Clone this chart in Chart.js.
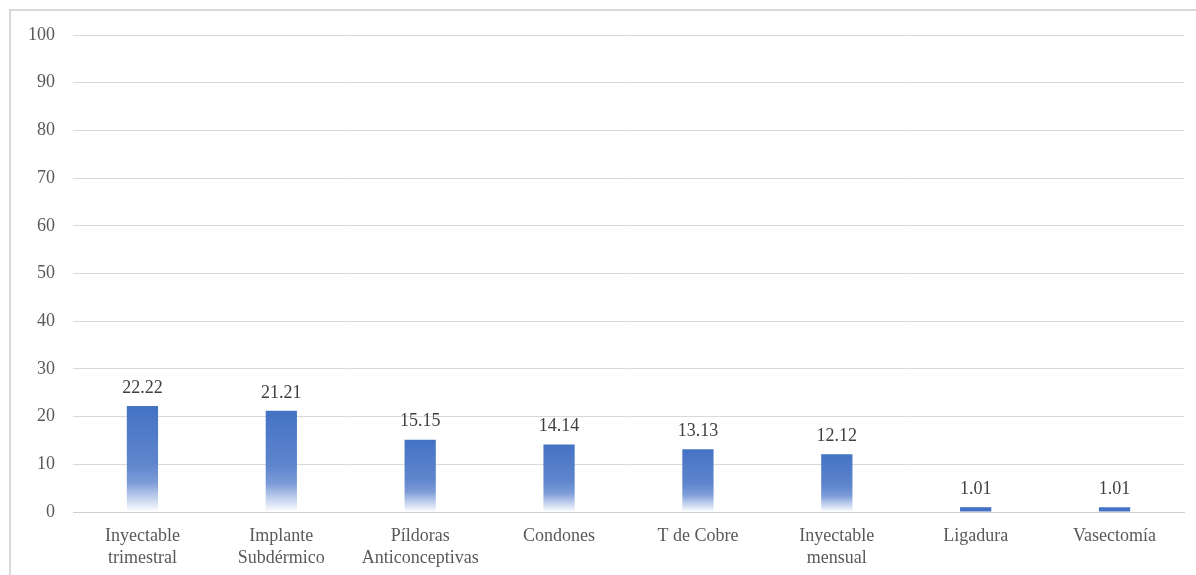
<!DOCTYPE html>
<html>
<head>
<meta charset="utf-8">
<script src="https://cdn.jsdelivr.net/npm/chart.js@4.4.1/dist/chart.umd.min.js"></script>
<style>
  html, body { margin: 0; padding: 0; background: #fff; overflow: hidden; }
  #frame {
    position: absolute; left: 9px; top: 9px; width: 1210px; height: 620px;
    border: 2px solid #d9d9d9; box-sizing: border-box;
  }
  #wrap { position: absolute; left: 0; top: 0; width: 1196px; height: 575px; }
</style>
</head>
<body>
<div id="frame"></div>
<div id="wrap"><canvas id="methodsChart"></canvas></div>
<script>
// Contraceptive methods (percent)
const methods = [
    ["Inyectable", "trimestral"],
    ["Implante", "Subdérmico"],
    ["Píldoras", "Anticonceptivas"],
    ["Condones"],
    ["T de Cobre"],
    ["Inyectable", "mensual"],
    ["Ligadura"],
    ["Vasectomía"],
];
const percentages = [22.22, 21.21, 15.15, 14.14, 13.13, 12.12, 1.01, 1.01];
const yTicks = [0, 10, 20, 30, 40, 50, 60, 70, 80, 90, 100];

const textColor = "#595959";
const fontFamily = "'Liberation Serif', 'Times New Roman', serif";

// Per-bar vertical gradient: solid blue on top, fading to white at the base
function barFill(context) {
    const chart = context.chart;
    const y = chart.scales && chart.scales.y;
    if (!y || !chart.chartArea || context.raw === undefined) return "#4472c4";
    const top = y.getPixelForValue(context.raw);
    const base = y.getPixelForValue(0);
    if (!isFinite(top) || !isFinite(base) || base - top < 12) return "#4472c4";
    const g = chart.ctx.createLinearGradient(0, top, 0, base);
    g.addColorStop(0, "#4472c4");
    g.addColorStop(0.55, "#5f86cd");
    g.addColorStop(0.72, "#7d9bd8");
    g.addColorStop(0.8, "#a3b9e4");
    g.addColorStop(1, "#ffffff");
    return g;
}

// Value labels above each bar
const valueLabels = {
    id: "valueLabels",
    afterDatasetsDraw(chart) {
        const ctx = chart.ctx;
        const meta = chart.getDatasetMeta(0);
        ctx.save();
        ctx.font = "18px " + fontFamily;
        ctx.fillStyle = "#404040";
        ctx.textAlign = "center";
        ctx.textBaseline = "bottom";
        meta.data.forEach((bar, i) => {
            ctx.fillText(percentages[i].toFixed(2), bar.x, bar.y - 9);
        });
        ctx.restore();
    },
};

new Chart(document.getElementById("methodsChart"), {
    type: "bar",
    data: {
        labels: methods,
        datasets: [
            {
                data: percentages,
                backgroundColor: barFill,
                borderWidth: 0,
                categoryPercentage: 1,
                barPercentage: 0.225,
            },
        ],
    },
    options: {
        responsive: true,
        maintainAspectRatio: false,
        animation: false,
        layout: { padding: { top: 35, right: 12, left: 10, bottom: 0 } },
        plugins: {
            legend: { display: false },
            tooltip: { enabled: false },
        },
        scales: {
            y: {
                min: 0,
                max: 100,
                afterBuildTicks: (scale) => {
                    scale.ticks = yTicks.map((v) => ({ value: v }));
                },
                grid: { color: "#d9d9d9", lineWidth: 1, drawTicks: false },
                border: { display: false },
                ticks: {
                    color: textColor,
                    font: { family: fontFamily, size: 18 },
                    padding: 18,
                },
            },
            x: {
                afterFit: (scale) => {
                    scale.height = 63;
                },
                grid: { display: false },
                border: { display: true, color: "#d0d0d0", width: 1 },
                ticks: {
                    color: textColor,
                    font: { family: fontFamily, size: 18, lineHeight: 1.25 },
                    maxRotation: 0,
                    autoSkip: false,
                    padding: 5,
                },
            },
        },
    },
    plugins: [valueLabels],
});
</script>
</body>
</html>
